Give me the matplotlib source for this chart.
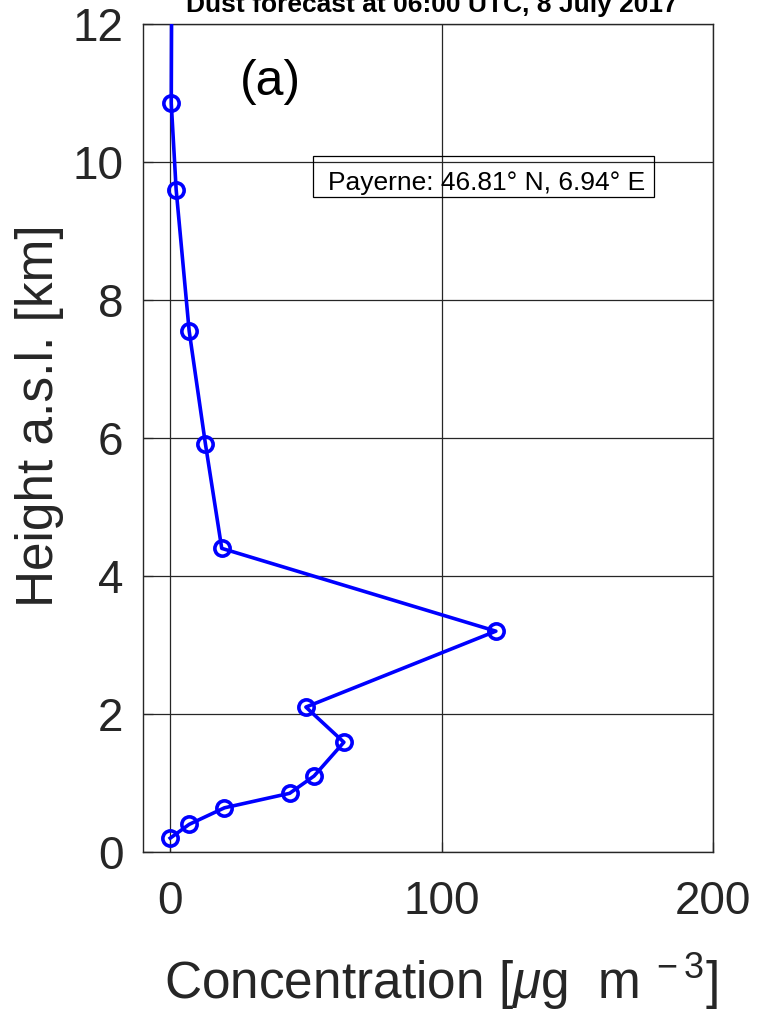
import matplotlib
matplotlib.use("Agg")
import matplotlib.pyplot as plt
from matplotlib.patches import Rectangle

plt.rcParams['font.family'] = ['Liberation Sans', 'DejaVu Sans']
plt.rcParams['mathtext.fontset'] = 'custom'
plt.rcParams['mathtext.rm'] = 'Liberation Sans'
plt.rcParams['mathtext.it'] = 'Liberation Sans:italic'

# Data
concentration = [0.0, 7.0, 20.0, 44.0, 53.0, 64.0, 50.0, 120.0, 19.0, 13.0, 7.0, 2.2, 0.4, 0.6]
height_km = [0.2, 0.4, 0.64, 0.85, 1.1, 1.59, 2.1, 3.2, 4.4, 5.91, 7.55, 9.6, 10.85, 13.0]
xticks = [0, 100, 200]
yticks = [0, 2, 4, 6, 8, 10, 12]

W, H = 758, 1011
fig = plt.figure(figsize=(W / 100, H / 100), dpi=100)
ax = fig.add_axes([0.1887, 0.1573, 0.7519, 0.8190])

ax.plot(concentration, height_km, color=(0, 0, 1), lw=2.6, marker='o',
        ms=11, mfc='none', mec=(0, 0, 1), mew=2.6, zorder=3)

ax.set_xlim(-10, 200)
ax.set_ylim(0, 12)
ax.set_xticks(xticks)
ax.set_yticks(yticks)
ax.grid(True, color='#262626', lw=0.9)
ax.set_axisbelow(True)
for s in ax.spines.values():
    s.set_color('#262626')
    s.set_linewidth(1.0)
ax.tick_params(direction='in', length=7, width=0.9, colors='#262626',
               labelsize=33, labelcolor='#262626', top=False, right=False)
ax.tick_params(axis='x', pad=20)
ax.tick_params(axis='y', pad=14)

fig.text(441 / W, 1 - 999 / H, 'Concentration [$\\mu$g  m$^{\\ -3}$]', fontsize=37,
         color='#262626', ha='center', va='baseline')
fig.text(40 / W, 1 - 416 / H, 'Height a.s.l. [km]', fontsize=37, color='#262626',
         rotation=90, ha='center', va='center')

fig.text(0.570, 1 - 12 / H, 'Dust forecast at 06:00 UTC, 8 July 2017', fontsize=19,
         fontweight='bold', ha='center', va='baseline', color='black')

ax.text(0.170, 0.930, '(a)', transform=ax.transAxes, fontsize=36, ha='left', va='center')

# Annotation box
box = Rectangle((0.298, 0.791), 0.598, 0.0495, transform=ax.transAxes,
                fill=False, edgecolor='black', lw=0.9, zorder=4)
ax.add_patch(box)
ax.text(0.3246, 0.808, 'Payerne: 46.81° N, 6.94° E', transform=ax.transAxes,
        fontsize=19, ha='left', va='center', zorder=5)

fig.savefig('out.png', dpi=100)
